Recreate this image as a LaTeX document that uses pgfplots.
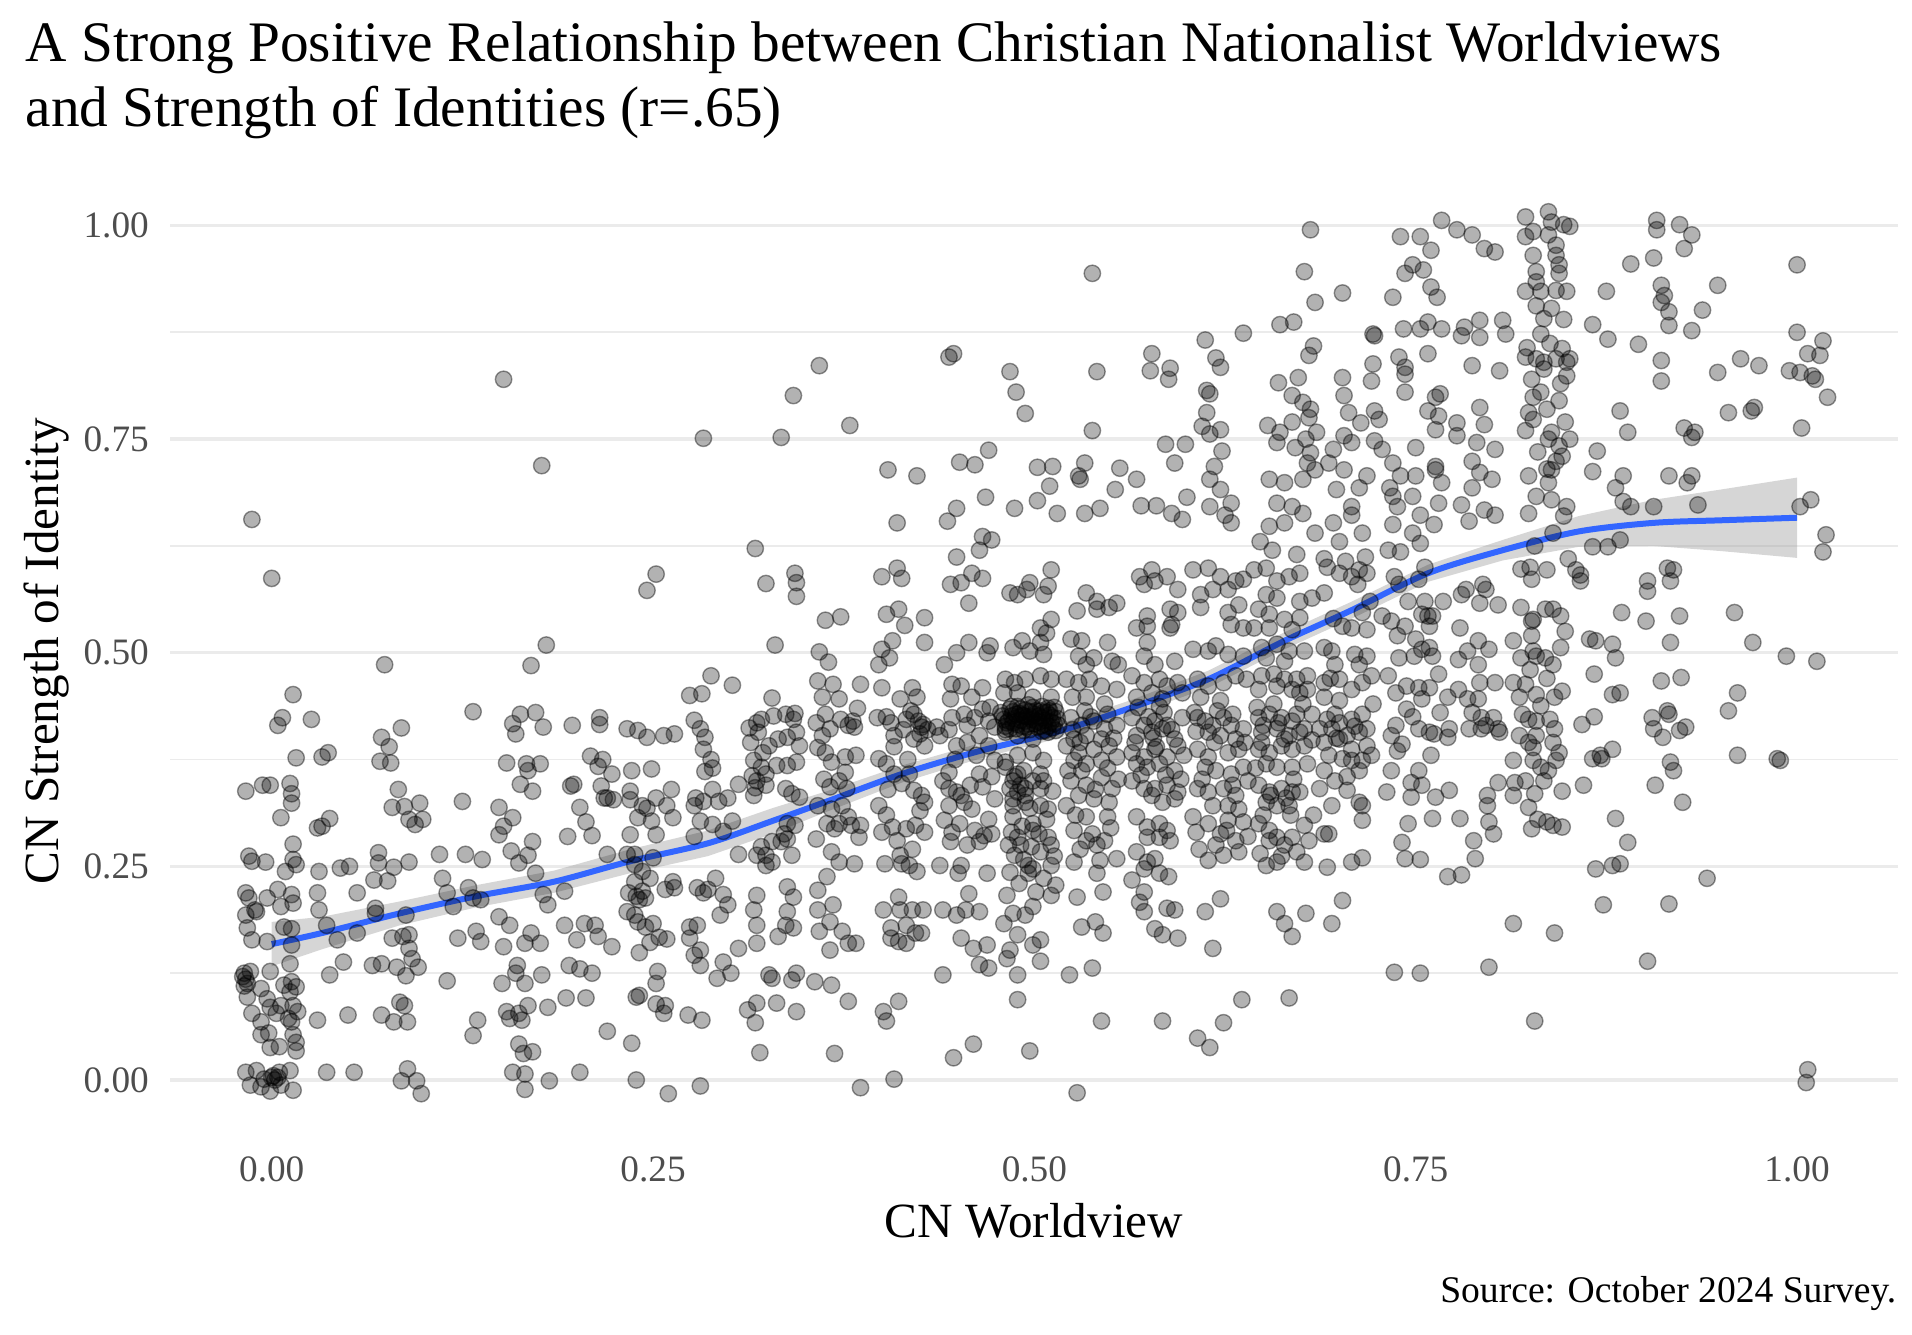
\documentclass[border=0pt]{standalone}
\usepackage{pgfplots}
\pgfplotsset{compat=1.18}
\usepackage{fontspec}
\setmainfont{Liberation Serif}
\definecolor{tickgray}{HTML}{4D4D4D}
\definecolor{gridgray}{HTML}{EBEBEB}
\definecolor{smoothblue}{HTML}{3366FF}
\definecolor{ribbongray}{HTML}{999999}
\pgfplotstableread{
x y
-0.013 0.656
0.000 0.587
0.014 0.451
0.007 0.424
0.004 0.415
0.026 0.422
0.016 0.377
0.033 0.378
0.037 0.383
-0.017 0.338
-0.006 0.345
-0.001 0.345
0.012 0.347
0.013 0.335
0.013 0.324
0.006 0.307
0.030 0.295
0.033 0.297
0.038 0.306
0.014 0.276
-0.015 0.262
-0.013 0.256
-0.004 0.255
0.014 0.258
0.009 0.244
0.016 0.252
0.031 0.244
-0.017 0.219
-0.015 0.213
-0.003 0.213
0.004 0.223
0.013 0.217
0.014 0.207
-0.010 0.197
-0.011 0.199
0.006 0.203
-0.017 0.193
0.030 0.219
0.031 0.199
-0.016 0.178
-0.013 0.164
-0.003 0.162
0.008 0.179
0.013 0.177
0.013 0.158
0.012 0.136
0.036 0.181
-0.018 0.125
-0.017 0.118
-0.019 0.121
-0.016 0.113
-0.014 0.127
-0.018 0.110
-0.001 0.127
-0.007 0.107
0.008 0.111
0.013 0.115
0.012 0.103
0.016 0.109
-0.016 0.097
-0.003 0.095
-0.001 0.085
0.003 0.078
0.006 0.087
0.014 0.087
0.017 0.080
-0.013 0.078
-0.007 0.068
0.011 0.072
0.013 0.068
-0.007 0.053
-0.002 0.055
0.014 0.053
0.016 0.044
-0.001 0.038
0.005 0.039
0.016 0.034
-0.017 0.009
-0.010 0.011
-0.005 0.001
0.000 0.003
0.005 0.009
0.012 0.011
-0.014 -0.006
-0.007 -0.008
-0.001 -0.013
0.006 -0.006
0.014 -0.012
0.002 0.000
0.004 0.003
0.001 0.005
0.030 0.070
0.036 0.009
0.074 0.486
0.072 0.401
0.077 0.390
0.085 0.412
0.071 0.373
0.078 0.371
0.083 0.340
0.079 0.319
0.087 0.320
0.097 0.324
0.090 0.305
0.094 0.299
0.099 0.305
0.051 0.250
0.045 0.248
0.056 0.219
0.070 0.266
0.070 0.254
0.080 0.249
0.067 0.234
0.076 0.233
0.090 0.255
0.068 0.201
0.068 0.195
0.056 0.172
0.043 0.164
0.088 0.193
0.079 0.166
0.086 0.168
0.090 0.170
0.090 0.154
0.092 0.142
0.096 0.132
0.088 0.122
0.066 0.134
0.072 0.136
0.082 0.132
0.047 0.138
0.038 0.123
0.072 0.076
0.080 0.068
0.089 0.068
0.084 0.091
0.087 0.087
0.089 0.013
0.085 -0.001
0.095 -0.001
0.098 -0.016
0.054 0.009
0.050 0.076
0.132 0.431
0.125 0.326
0.110 0.264
0.127 0.264
0.138 0.258
0.112 0.236
0.129 0.225
0.115 0.219
0.119 0.203
0.132 0.213
0.137 0.211
0.122 0.166
0.134 0.174
0.137 0.162
0.115 0.116
0.135 0.070
0.132 0.052
0.149 0.319
0.152 0.297
0.149 0.287
0.158 0.307
0.154 0.371
0.167 0.370
0.168 0.362
0.176 0.370
0.163 0.346
0.171 0.338
0.158 0.417
0.160 0.405
0.163 0.428
0.173 0.430
0.178 0.413
0.170 0.485
0.180 0.509
0.157 0.268
0.162 0.254
0.168 0.263
0.173 0.242
0.171 0.279
0.149 0.191
0.156 0.181
0.152 0.156
0.170 0.172
0.176 0.160
0.166 0.160
0.161 0.134
0.160 0.125
0.166 0.113
0.151 0.113
0.154 0.080
0.162 0.078
0.168 0.087
0.156 0.072
0.164 0.070
0.177 0.123
0.181 0.085
0.162 0.042
0.171 0.033
0.165 0.031
0.158 0.009
0.166 0.007
0.166 -0.011
0.182 -0.001
0.181 0.205
0.178 0.217
0.192 0.221
0.195 0.134
0.202 0.130
0.210 0.125
0.193 0.096
0.206 0.096
0.192 0.181
0.200 0.164
0.205 0.183
0.212 0.181
0.214 0.168
0.223 0.156
0.194 0.285
0.210 0.286
0.206 0.302
0.202 0.319
0.196 0.344
0.198 0.346
0.209 0.379
0.217 0.375
0.214 0.367
0.223 0.358
0.216 0.344
0.220 0.330
0.218 0.330
0.224 0.328
0.215 0.424
0.197 0.415
0.215 0.416
0.202 0.009
0.233 0.411
0.240 0.409
0.246 0.401
0.257 0.403
0.264 0.405
0.236 0.362
0.249 0.364
0.235 0.338
0.235 0.328
0.243 0.321
0.252 0.330
0.259 0.321
0.262 0.340
0.240 0.307
0.249 0.303
0.263 0.307
0.252 0.287
0.246 0.318
0.235 0.287
0.238 0.264
0.220 0.264
0.233 0.264
0.238 0.252
0.250 0.260
0.243 0.244
0.248 0.236
0.238 0.232
0.263 0.232
0.264 0.225
0.258 0.223
0.234 0.219
0.239 0.215
0.243 0.221
0.241 0.211
0.245 0.213
0.233 0.197
0.238 0.193
0.240 0.185
0.250 0.183
0.245 0.179
0.254 0.167
0.259 0.165
0.248 0.161
0.241 0.149
0.253 0.127
0.252 0.113
0.241 0.099
0.239 0.097
0.252 0.089
0.258 0.087
0.257 0.078
0.220 0.057
0.236 0.043
0.239 0.000
0.260 -0.016
0.281 -0.007
0.273 0.076
0.282 0.070
0.277 0.421
0.281 0.411
0.284 0.401
0.283 0.387
0.288 0.375
0.289 0.365
0.284 0.361
0.288 0.473
0.302 0.462
0.282 0.452
0.274 0.450
0.278 0.330
0.283 0.326
0.289 0.340
0.277 0.321
0.293 0.326
0.299 0.330
0.306 0.346
0.281 0.303
0.289 0.299
0.302 0.303
0.296 0.291
0.306 0.264
0.277 0.285
0.286 0.223
0.283 0.219
0.296 0.217
0.299 0.205
0.291 0.236
0.279 0.225
0.294 0.193
0.279 0.181
0.274 0.179
0.281 0.152
0.274 0.166
0.306 0.154
0.296 0.138
0.301 0.125
0.292 0.119
0.312 0.082
0.277 0.146
0.281 0.134
0.152 0.820
0.177 0.719
0.283 0.751
0.252 0.592
0.246 0.573
0.324 0.581
0.343 0.593
0.344 0.582
0.344 0.566
0.330 0.509
0.328 0.447
0.318 0.418
0.321 0.422
0.329 0.426
0.337 0.428
0.343 0.429
0.342 0.422
0.319 0.407
0.326 0.391
0.332 0.399
0.338 0.401
0.344 0.407
0.346 0.391
0.344 0.372
0.316 0.374
0.321 0.366
0.331 0.368
0.338 0.368
0.324 0.358
0.318 0.350
0.324 0.345
0.316 0.333
0.337 0.341
0.341 0.335
0.346 0.331
0.338 0.300
0.343 0.298
0.336 0.288
0.334 0.279
0.328 0.279
0.321 0.273
0.324 0.263
0.328 0.255
0.318 0.263
0.324 0.251
0.341 0.263
0.338 0.282
0.318 0.216
0.316 0.199
0.318 0.181
0.318 0.160
0.338 0.226
0.342 0.214
0.338 0.197
0.337 0.181
0.332 0.168
0.342 0.178
0.326 0.123
0.328 0.119
0.341 0.117
0.344 0.125
0.318 0.090
0.331 0.090
0.317 0.067
0.344 0.080
0.320 0.032
0.313 0.412
0.314 0.395
0.322 0.383
0.315 0.356
0.317 0.342
0.363 0.538
0.373 0.542
0.359 0.501
0.365 0.489
0.358 0.467
0.368 0.463
0.361 0.448
0.372 0.446
0.363 0.428
0.373 0.422
0.357 0.418
0.366 0.411
0.361 0.403
0.358 0.389
0.363 0.383
0.367 0.372
0.376 0.378
0.382 0.413
0.383 0.380
0.386 0.463
0.362 0.352
0.366 0.343
0.372 0.350
0.376 0.360
0.377 0.341
0.358 0.321
0.367 0.317
0.374 0.321
0.378 0.308
0.364 0.300
0.369 0.294
0.372 0.300
0.385 0.284
0.386 0.298
0.380 0.298
0.357 0.282
0.367 0.267
0.372 0.255
0.382 0.253
0.364 0.238
0.358 0.222
0.358 0.199
0.366 0.185
0.368 0.205
0.359 0.174
0.374 0.174
0.378 0.160
0.366 0.152
0.383 0.160
0.356 0.115
0.367 0.111
0.378 0.092
0.369 0.031
0.386 -0.009
0.381 0.420
0.378 0.415
0.384 0.435
0.400 0.589
0.410 0.599
0.413 0.587
0.403 0.545
0.411 0.551
0.415 0.532
0.428 0.541
0.407 0.514
0.400 0.504
0.405 0.494
0.398 0.486
0.400 0.459
0.412 0.446
0.420 0.459
0.423 0.448
0.397 0.424
0.406 0.418
0.416 0.422
0.421 0.428
0.426 0.413
0.408 0.403
0.421 0.399
0.428 0.391
0.398 0.376
0.403 0.370
0.408 0.358
0.413 0.347
0.421 0.339
0.426 0.333
0.428 0.325
0.418 0.358
0.398 0.321
0.403 0.310
0.400 0.290
0.407 0.296
0.416 0.294
0.422 0.298
0.428 0.290
0.412 0.263
0.402 0.253
0.413 0.253
0.418 0.251
0.423 0.244
0.411 0.214
0.401 0.199
0.412 0.199
0.420 0.199
0.427 0.199
0.406 0.178
0.416 0.181
0.422 0.172
0.426 0.172
0.406 0.166
0.411 0.162
0.416 0.160
0.401 0.080
0.403 0.069
0.411 0.092
0.408 0.001
0.424 0.420
0.427 0.416
0.419 0.432
0.430 0.410
0.445 0.580
0.452 0.582
0.459 0.593
0.466 0.587
0.457 0.558
0.428 0.512
0.449 0.500
0.441 0.486
0.457 0.512
0.471 0.508
0.469 0.500
0.446 0.463
0.452 0.461
0.466 0.459
0.459 0.448
0.445 0.446
0.436 0.413
0.446 0.424
0.454 0.428
0.461 0.424
0.466 0.434
0.471 0.436
0.474 0.413
0.438 0.403
0.449 0.391
0.464 0.403
0.470 0.391
0.456 0.395
0.440 0.350
0.449 0.337
0.454 0.325
0.466 0.343
0.474 0.329
0.444 0.321
0.459 0.317
0.441 0.304
0.451 0.300
0.461 0.292
0.467 0.286
0.445 0.279
0.456 0.275
0.464 0.279
0.472 0.288
0.438 0.251
0.450 0.242
0.452 0.251
0.469 0.242
0.457 0.218
0.455 0.199
0.464 0.197
0.440 0.199
0.449 0.193
0.452 0.166
0.460 0.154
0.469 0.158
0.464 0.135
0.470 0.131
0.440 0.123
0.460 0.042
0.447 0.026
0.444 0.341
0.452 0.333
0.464 0.358
0.474 0.374
0.484 0.570
0.489 0.568
0.495 0.574
0.497 0.582
0.506 0.568
0.509 0.578
0.511 0.597
0.486 0.506
0.492 0.514
0.497 0.502
0.504 0.512
0.506 0.498
0.511 0.539
0.504 0.529
0.508 0.523
0.481 0.469
0.487 0.465
0.494 0.469
0.504 0.473
0.511 0.469
0.480 0.453
0.489 0.453
0.499 0.448
0.511 0.448
0.478 0.430
0.480 0.422
0.481 0.414
0.484 0.434
0.485 0.426
0.486 0.418
0.488 0.411
0.489 0.437
0.490 0.429
0.491 0.421
0.492 0.414
0.494 0.433
0.495 0.425
0.496 0.417
0.497 0.410
0.499 0.436
0.500 0.428
0.501 0.420
0.502 0.413
0.504 0.432
0.505 0.424
0.506 0.416
0.507 0.409
0.509 0.435
0.510 0.427
0.511 0.419
0.512 0.412
0.514 0.431
0.515 0.423
0.516 0.415
0.483 0.420
0.493 0.426
0.503 0.419
0.508 0.430
0.498 0.422
0.488 0.428
0.479 0.426
0.482 0.418
0.484 0.411
0.486 0.431
0.487 0.423
0.489 0.416
0.491 0.434
0.492 0.427
0.494 0.420
0.495 0.413
0.497 0.431
0.498 0.425
0.500 0.417
0.501 0.432
0.503 0.426
0.504 0.414
0.506 0.430
0.507 0.421
0.509 0.414
0.510 0.432
0.512 0.424
0.513 0.417
0.485 0.437
0.496 0.439
0.505 0.437
0.513 0.436
0.481 0.410
0.493 0.409
0.505 0.408
0.514 0.409
0.481 0.407
0.489 0.403
0.499 0.399
0.509 0.407
0.481 0.372
0.489 0.380
0.499 0.383
0.506 0.374
0.504 0.358
0.489 0.358
0.499 0.350
0.484 0.341
0.489 0.337
0.494 0.341
0.504 0.341
0.486 0.321
0.494 0.325
0.504 0.321
0.509 0.317
0.486 0.308
0.499 0.300
0.489 0.284
0.499 0.292
0.509 0.284
0.491 0.275
0.504 0.267
0.511 0.275
0.496 0.251
0.496 0.242
0.499 0.247
0.511 0.251
0.487 0.263
0.482 0.216
0.501 0.220
0.511 0.216
0.499 0.203
0.486 0.195
0.494 0.193
0.480 0.183
0.489 0.170
0.499 0.158
0.504 0.164
0.484 0.152
0.482 0.142
0.504 0.139
0.489 0.123
0.489 0.094
0.497 0.034
0.481 0.366
0.486 0.350
0.494 0.333
0.491 0.345
0.534 0.570
0.541 0.560
0.549 0.553
0.554 0.558
0.541 0.551
0.528 0.549
0.524 0.516
0.531 0.514
0.539 0.494
0.548 0.512
0.551 0.490
0.555 0.486
0.529 0.496
0.534 0.486
0.521 0.469
0.529 0.465
0.536 0.469
0.544 0.461
0.554 0.457
0.525 0.448
0.534 0.448
0.546 0.440
0.524 0.424
0.531 0.415
0.539 0.420
0.546 0.411
0.554 0.415
0.534 0.403
0.526 0.399
0.544 0.399
0.521 0.391
0.529 0.383
0.539 0.387
0.549 0.391
0.526 0.374
0.534 0.370
0.544 0.374
0.554 0.378
0.531 0.362
0.524 0.350
0.534 0.345
0.544 0.354
0.551 0.341
0.529 0.333
0.539 0.329
0.549 0.325
0.521 0.321
0.534 0.308
0.548 0.308
0.526 0.292
0.538 0.288
0.546 0.280
0.534 0.280
0.541 0.275
0.526 0.255
0.543 0.257
0.554 0.259
0.541 0.242
0.528 0.214
0.545 0.220
0.531 0.179
0.540 0.185
0.545 0.172
0.523 0.123
0.538 0.131
0.544 0.069
0.528 -0.015
0.530 0.395
0.548 0.365
0.537 0.425
0.569 0.589
0.577 0.597
0.587 0.589
0.594 0.574
0.572 0.580
0.579 0.584
0.574 0.543
0.589 0.551
0.594 0.547
0.567 0.529
0.574 0.531
0.589 0.529
0.590 0.533
0.574 0.512
0.572 0.496
0.579 0.486
0.592 0.490
0.564 0.473
0.572 0.465
0.582 0.469
0.587 0.461
0.594 0.465
0.567 0.448
0.577 0.453
0.584 0.446
0.597 0.453
0.564 0.424
0.572 0.415
0.579 0.420
0.587 0.415
0.597 0.424
0.567 0.403
0.577 0.407
0.584 0.411
0.592 0.399
0.564 0.383
0.572 0.378
0.579 0.387
0.587 0.378
0.594 0.391
0.567 0.370
0.574 0.366
0.582 0.370
0.592 0.362
0.564 0.350
0.572 0.341
0.579 0.341
0.587 0.345
0.594 0.337
0.577 0.333
0.584 0.325
0.592 0.329
0.567 0.308
0.574 0.296
0.582 0.300
0.587 0.292
0.582 0.284
0.589 0.280
0.574 0.284
0.567 0.267
0.574 0.255
0.579 0.259
0.572 0.247
0.582 0.242
0.588 0.238
0.564 0.234
0.572 0.220
0.569 0.208
0.572 0.197
0.587 0.201
0.592 0.199
0.579 0.177
0.584 0.170
0.594 0.166
0.584 0.069
0.575 0.425
0.585 0.430
0.578 0.400
0.580 0.390
0.586 0.357
0.604 0.597
0.614 0.599
0.622 0.589
0.632 0.584
0.637 0.586
0.609 0.568
0.617 0.574
0.627 0.574
0.609 0.553
0.627 0.547
0.634 0.556
0.629 0.533
0.637 0.529
0.604 0.504
0.614 0.502
0.619 0.508
0.627 0.498
0.637 0.496
0.607 0.469
0.614 0.461
0.624 0.465
0.632 0.473
0.639 0.469
0.609 0.448
0.622 0.444
0.607 0.424
0.612 0.420
0.617 0.415
0.624 0.424
0.629 0.415
0.637 0.411
0.614 0.407
0.622 0.403
0.632 0.399
0.607 0.387
0.614 0.378
0.627 0.383
0.634 0.387
0.612 0.366
0.619 0.362
0.629 0.358
0.637 0.366
0.607 0.341
0.614 0.337
0.624 0.341
0.632 0.333
0.617 0.321
0.627 0.321
0.634 0.317
0.604 0.308
0.614 0.300
0.627 0.304
0.637 0.302
0.622 0.288
0.632 0.280
0.619 0.275
0.614 0.257
0.624 0.263
0.634 0.267
0.612 0.197
0.622 0.212
0.617 0.154
0.636 0.094
0.624 0.067
0.607 0.049
0.615 0.038
0.605 0.430
0.620 0.432
0.630 0.428
0.644 0.597
0.652 0.599
0.659 0.584
0.667 0.589
0.674 0.593
0.652 0.568
0.659 0.564
0.674 0.560
0.647 0.551
0.654 0.545
0.664 0.539
0.674 0.541
0.644 0.529
0.654 0.529
0.669 0.527
0.649 0.506
0.659 0.510
0.667 0.502
0.677 0.502
0.652 0.494
0.664 0.490
0.649 0.473
0.657 0.475
0.664 0.469
0.672 0.469
0.679 0.473
0.647 0.457
0.659 0.461
0.669 0.457
0.674 0.453
0.647 0.424
0.654 0.428
0.662 0.424
0.669 0.420
0.677 0.411
0.649 0.407
0.659 0.411
0.667 0.403
0.674 0.407
0.647 0.387
0.654 0.383
0.662 0.391
0.669 0.387
0.677 0.391
0.652 0.370
0.659 0.366
0.669 0.366
0.679 0.370
0.647 0.345
0.654 0.337
0.662 0.341
0.669 0.337
0.674 0.337
0.652 0.325
0.659 0.321
0.667 0.321
0.647 0.300
0.654 0.292
0.659 0.284
0.669 0.284
0.677 0.298
0.654 0.280
0.664 0.275
0.652 0.251
0.659 0.255
0.672 0.267
0.677 0.255
0.659 0.197
0.664 0.183
0.669 0.168
0.678 0.195
0.667 0.096
0.650 0.415
0.660 0.418
0.655 0.333
0.665 0.330
0.672 0.428
0.700 0.593
0.708 0.589
0.713 0.597
0.718 0.593
0.690 0.570
0.682 0.564
0.702 0.531
0.708 0.529
0.718 0.527
0.715 0.547
0.690 0.506
0.695 0.502
0.710 0.498
0.718 0.496
0.697 0.486
0.713 0.486
0.690 0.465
0.700 0.469
0.708 0.457
0.715 0.465
0.721 0.473
0.679 0.457
0.690 0.448
0.700 0.444
0.682 0.428
0.692 0.422
0.697 0.428
0.708 0.422
0.715 0.428
0.687 0.411
0.695 0.411
0.705 0.403
0.713 0.407
0.718 0.411
0.690 0.395
0.700 0.399
0.708 0.387
0.718 0.391
0.702 0.376
0.708 0.374
0.715 0.374
0.713 0.362
0.690 0.362
0.697 0.350
0.687 0.341
0.705 0.339
0.713 0.325
0.715 0.321
0.695 0.321
0.715 0.304
0.690 0.288
0.693 0.288
0.692 0.249
0.708 0.255
0.715 0.260
0.702 0.210
0.695 0.183
0.700 0.418
0.710 0.414
0.693 0.380
0.705 0.355
0.728 0.543
0.734 0.537
0.743 0.531
0.739 0.580
0.752 0.586
0.736 0.589
0.754 0.545
0.758 0.543
0.761 0.543
0.759 0.531
0.750 0.516
0.754 0.504
0.749 0.496
0.759 0.506
0.761 0.496
0.739 0.494
0.732 0.473
0.737 0.453
0.744 0.461
0.752 0.459
0.759 0.459
0.754 0.446
0.744 0.434
0.737 0.415
0.734 0.403
0.741 0.393
0.752 0.411
0.762 0.405
0.759 0.407
0.772 0.411
0.771 0.401
0.734 0.362
0.752 0.362
0.747 0.348
0.754 0.345
0.763 0.331
0.747 0.331
0.731 0.337
0.745 0.300
0.761 0.306
0.741 0.278
0.743 0.259
0.753 0.258
0.772 0.339
0.771 0.238
0.780 0.240
0.756 0.560
0.736 0.126
0.753 0.125
0.780 0.568
0.783 0.574
0.794 0.580
0.796 0.574
0.792 0.558
0.804 0.556
0.819 0.553
0.827 0.539
0.819 0.598
0.826 0.586
0.836 0.597
0.779 0.529
0.791 0.514
0.798 0.504
0.784 0.502
0.778 0.492
0.791 0.486
0.792 0.465
0.802 0.465
0.778 0.457
0.771 0.448
0.784 0.446
0.791 0.446
0.787 0.430
0.793 0.424
0.796 0.415
0.785 0.411
0.793 0.411
0.804 0.411
0.805 0.407
0.801 0.424
0.814 0.514
0.819 0.494
0.827 0.502
0.829 0.496
0.835 0.494
0.840 0.486
0.845 0.506
0.814 0.465
0.822 0.463
0.829 0.451
0.841 0.448
0.818 0.448
0.820 0.428
0.824 0.422
0.829 0.420
0.838 0.422
0.841 0.411
0.818 0.403
0.829 0.403
0.827 0.389
0.814 0.374
0.827 0.374
0.832 0.366
0.837 0.362
0.844 0.383
0.842 0.374
0.804 0.348
0.815 0.348
0.828 0.335
0.814 0.333
0.797 0.333
0.797 0.321
0.824 0.319
0.798 0.302
0.836 0.302
0.840 0.298
0.846 0.296
0.826 0.294
0.779 0.306
0.801 0.288
0.788 0.280
0.789 0.259
0.814 0.183
0.841 0.172
0.798 0.132
0.828 0.069
0.855 0.597
0.858 0.591
0.858 0.584
0.845 0.543
0.840 0.551
0.835 0.551
0.826 0.537
0.864 0.516
0.868 0.514
0.879 0.510
0.881 0.494
0.867 0.475
0.879 0.451
0.884 0.453
0.885 0.547
0.901 0.537
0.902 0.584
0.902 0.572
0.915 0.599
0.919 0.597
0.917 0.584
0.923 0.543
0.917 0.512
0.911 0.467
0.924 0.471
0.905 0.424
0.915 0.432
0.916 0.428
0.906 0.411
0.912 0.401
0.923 0.409
0.927 0.413
0.867 0.425
0.859 0.416
0.879 0.387
0.871 0.380
0.866 0.376
0.872 0.376
0.860 0.345
0.881 0.306
0.889 0.278
0.868 0.247
0.879 0.251
0.884 0.253
0.917 0.372
0.919 0.362
0.907 0.345
0.925 0.325
0.873 0.205
0.916 0.206
0.902 0.139
0.941 0.236
0.959 0.547
0.971 0.512
0.993 0.496
1.013 0.490
0.961 0.453
0.955 0.432
0.961 0.380
0.987 0.376
0.989 0.374
1.007 0.012
1.006 -0.003
0.317 0.622
0.334 0.752
0.342 0.801
0.359 0.836
0.379 0.766
0.404 0.714
0.423 0.707
0.410 0.652
0.444 0.846
0.447 0.850
0.451 0.723
0.461 0.720
0.470 0.737
0.468 0.682
0.449 0.669
0.443 0.654
0.466 0.636
0.472 0.632
0.449 0.612
0.464 0.620
0.484 0.829
0.488 0.805
0.494 0.780
0.487 0.669
0.502 0.678
0.515 0.663
0.510 0.695
0.502 0.717
0.512 0.718
0.529 0.707
0.533 0.722
0.530 0.703
0.538 0.944
0.538 0.760
0.541 0.829
0.533 0.663
0.543 0.669
0.553 0.691
0.556 0.716
0.567 0.703
0.577 0.850
0.576 0.830
0.589 0.833
0.588 0.820
0.586 0.744
0.599 0.744
0.592 0.722
0.570 0.672
0.580 0.672
0.590 0.663
0.600 0.682
0.597 0.656
0.612 0.866
0.619 0.845
0.622 0.834
0.613 0.807
0.615 0.803
0.613 0.781
0.610 0.765
0.615 0.756
0.622 0.761
0.623 0.736
0.618 0.718
0.615 0.703
0.622 0.691
0.615 0.671
0.629 0.675
0.625 0.661
0.629 0.652
0.637 0.874
0.661 0.884
0.670 0.887
0.677 0.946
0.681 0.995
0.683 0.859
0.680 0.848
0.684 0.910
0.653 0.766
0.661 0.758
0.659 0.746
0.673 0.822
0.676 0.793
0.681 0.785
0.669 0.801
0.680 0.775
0.685 0.758
0.678 0.750
0.671 0.740
0.681 0.734
0.684 0.714
0.676 0.703
0.660 0.816
0.669 0.770
0.679 0.722
0.654 0.703
0.664 0.699
0.659 0.675
0.669 0.671
0.676 0.663
0.654 0.648
0.664 0.652
0.702 0.921
0.703 0.801
0.702 0.822
0.706 0.781
0.714 0.769
0.703 0.754
0.708 0.746
0.696 0.738
0.693 0.722
0.703 0.714
0.718 0.707
0.698 0.691
0.713 0.693
0.708 0.671
0.696 0.652
0.708 0.661
0.722 0.873
0.723 0.871
0.722 0.838
0.721 0.818
0.723 0.783
0.726 0.773
0.723 0.748
0.728 0.738
0.735 0.722
0.740 0.707
0.733 0.693
0.748 0.683
0.738 0.671
0.743 0.805
0.739 0.846
0.743 0.834
0.740 0.987
0.753 0.987
0.748 0.954
0.760 0.971
0.755 0.948
0.743 0.944
0.735 0.916
0.760 0.928
0.764 0.916
0.742 0.879
0.753 0.879
0.758 0.887
0.767 0.879
0.758 0.850
0.743 0.826
0.758 0.783
0.763 0.799
0.766 0.803
0.765 0.777
0.750 0.740
0.763 0.761
0.763 0.718
0.750 0.707
0.767 0.699
0.763 0.714
0.765 0.675
0.753 0.661
0.735 0.683
0.740 0.618
0.753 0.628
0.767 1.006
0.777 0.995
0.787 0.989
0.795 0.973
0.802 0.969
0.782 0.881
0.792 0.889
0.807 0.889
0.780 0.871
0.792 0.869
0.809 0.873
0.787 0.836
0.805 0.830
0.792 0.787
0.777 0.769
0.795 0.767
0.777 0.754
0.790 0.746
0.802 0.738
0.787 0.724
0.792 0.711
0.800 0.703
0.787 0.693
0.780 0.673
0.795 0.667
0.802 0.661
0.785 0.654
0.822 1.010
0.827 0.993
0.822 0.987
0.837 1.016
0.839 1.004
0.847 1.001
0.851 0.999
0.837 0.989
0.842 0.977
0.827 0.965
0.842 0.965
0.844 0.954
0.829 0.946
0.844 0.944
0.829 0.934
0.822 0.923
0.832 0.923
0.842 0.924
0.849 0.923
0.829 0.906
0.839 0.903
0.834 0.891
0.847 0.890
0.832 0.873
0.822 0.846
0.829 0.844
0.834 0.840
0.842 0.844
0.849 0.840
0.851 0.844
0.834 0.832
0.849 0.824
0.832 0.805
0.827 0.799
0.844 0.795
0.824 0.781
0.827 0.773
0.839 0.758
0.837 0.750
0.851 0.750
0.844 0.742
0.842 0.724
0.824 0.707
0.839 0.714
0.837 0.699
0.829 0.683
0.839 0.679
0.849 0.671
0.847 0.660
0.824 0.663
0.866 0.884
0.876 0.867
0.896 0.861
0.875 0.923
0.891 0.955
0.906 0.962
0.911 0.930
0.913 0.918
0.911 0.910
0.916 0.899
0.938 0.901
0.948 0.930
0.931 0.877
0.916 0.883
0.908 1.006
0.908 0.995
0.923 1.001
0.931 0.989
0.926 0.973
0.911 0.842
0.911 0.818
0.948 0.828
0.963 0.844
0.975 0.836
0.884 0.783
0.955 0.781
0.970 0.783
0.972 0.787
0.926 0.763
0.933 0.758
0.931 0.752
0.889 0.758
0.869 0.736
0.866 0.712
0.886 0.707
0.881 0.693
0.886 0.677
0.891 0.671
0.906 0.671
0.916 0.707
0.931 0.707
0.928 0.699
0.935 0.673
0.876 0.624
0.884 0.632
0.866 0.624
1.000 0.954
1.000 0.875
1.017 0.865
1.007 0.850
1.015 0.848
0.995 0.830
1.002 0.828
1.010 0.824
1.012 0.820
1.020 0.799
1.003 0.763
1.002 0.671
1.009 0.679
1.019 0.638
1.017 0.618
0.487 0.355
0.493 0.362
0.506 0.350
0.512 0.338
0.486 0.329
0.497 0.318
0.508 0.305
0.492 0.297
0.485 0.290
0.503 0.288
0.513 0.262
0.493 0.258
0.484 0.243
0.506 0.236
0.490 0.230
0.514 0.228
0.498 0.273
0.483 0.275
0.566 0.395
0.590 0.410
0.598 0.380
0.570 0.357
0.596 0.352
0.582 0.437
0.568 0.436
0.646 0.436
0.657 0.440
0.676 0.440
0.649 0.395
0.664 0.399
0.682 0.398
0.645 0.365
0.670 0.352
0.650 0.310
0.668 0.310
0.683 0.310
0.648 0.265
0.662 0.262
0.680 0.280
0.656 0.620
0.672 0.615
0.648 0.630
0.684 0.640
0.690 0.610
0.704 0.607
0.717 0.612
0.700 0.630
0.715 0.640
0.692 0.600
0.712 0.580
0.696 0.540
0.720 0.560
0.694 0.470
0.722 0.440
0.698 0.400
0.721 0.380
0.823 0.857
0.838 0.862
0.846 0.856
0.826 0.820
0.845 0.815
0.836 0.785
0.822 0.760
0.848 0.770
0.830 0.735
0.846 0.730
0.836 0.715
0.828 0.625
0.840 0.640
0.825 0.600
0.850 0.610
0.826 0.520
0.848 0.525
0.836 0.470
0.825 0.480
0.846 0.455
0.832 0.438
0.824 0.395
0.840 0.395
0.834 0.350
0.822 0.350
0.846 0.338
0.830 0.305
0.732 0.620
0.748 0.640
0.762 0.650
0.735 0.650
0.756 0.600
0.768 0.560
0.745 0.560
0.738 0.520
0.765 0.475
0.748 0.425
0.766 0.430
0.738 0.385
0.760 0.380
0.403 0.425
0.414 0.410
0.425 0.405
0.408 0.390
0.417 0.375
0.404 0.340
0.425 0.315
0.410 0.280
0.420 0.270
0.444 0.410
0.456 0.415
0.470 0.420
0.448 0.375
0.462 0.380
0.444 0.360
0.472 0.355
0.458 0.345
0.446 0.290
0.470 0.305
0.525 0.410
0.533 0.432
0.548 0.428
0.552 0.400
0.522 0.362
0.540 0.340
0.555 0.352
0.527 0.310
0.550 0.295
0.530 0.270
0.606 0.408
0.618 0.395
0.638 0.395
0.610 0.352
0.630 0.345
0.640 0.350
0.606 0.290
0.626 0.292
0.608 0.270
0.640 0.285
}\points
\pgfplotstableread{
x y
0.000 0.185
0.033 0.191
0.084 0.209
0.134 0.228
0.185 0.245
0.235 0.270
0.286 0.292
0.328 0.318
0.364 0.338
0.413 0.368
0.464 0.394
0.514 0.415
0.564 0.445
0.614 0.479
0.664 0.524
0.707 0.559
0.758 0.603
0.807 0.632
0.857 0.660
0.906 0.679
0.950 0.691
1.000 0.705
1.000 0.611
0.950 0.619
0.906 0.625
0.857 0.624
0.807 0.608
0.758 0.583
0.707 0.539
0.664 0.504
0.614 0.459
0.564 0.427
0.514 0.399
0.464 0.376
0.413 0.348
0.364 0.314
0.328 0.288
0.286 0.262
0.235 0.242
0.185 0.219
0.134 0.202
0.084 0.181
0.033 0.153
0.000 0.133
}\ribbon
\pgfplotstableread{
x y
0.000 0.159
0.033 0.172
0.084 0.195
0.134 0.215
0.185 0.232
0.235 0.256
0.286 0.277
0.328 0.303
0.364 0.326
0.413 0.358
0.464 0.385
0.514 0.407
0.564 0.436
0.614 0.469
0.664 0.514
0.707 0.549
0.758 0.593
0.807 0.620
0.857 0.642
0.906 0.652
0.950 0.655
1.000 0.658
}\smoothline
\begin{document}
\begin{tikzpicture}
\path[use as bounding box] (0,0) rectangle (191.2mm,133.4mm);
\begin{axis}[
  at={(17mm,19.25mm)}, anchor=south west,
  scale only axis, width=172.8mm, height=97.75mm,
  xmin=-0.0667, xmax=1.0662, ymin=-0.072, ymax=1.072,
  axis line style={draw=none},
  major tick length=0pt, minor tick length=0pt,
  tick style={draw=none},
  xtick={0,0.25,0.5,0.75,1}, ytick={0,0.25,0.5,0.75,1},
  minor ytick={0.125,0.375,0.625,0.875},
  ymajorgrids, yminorgrids,
  major grid style={draw=gridgray, line width=0.35mm},
  minor grid style={draw=gridgray, line width=0.18mm},
  ticklabel style={font=\fontsize{10.6}{12}\selectfont, text=tickgray},
  xticklabel style={inner sep=0pt, anchor=north, yshift=-1.45mm},
  yticklabel style={inner sep=0pt, anchor=east, xshift=-2.05mm},
  /pgf/number format/fixed, /pgf/number format/fixed zerofill,
  /pgf/number format/precision=2, /pgf/number format/assume math mode=true,
]
\addplot[only marks, mark=*, mark size=0.82mm,
  mark options={fill=black, fill opacity=0.3, draw=black, draw opacity=0.42, line width=0.14mm}]
  table[x=x, y=y] {\points};
\addplot[draw=none, fill=ribbongray, fill opacity=0.4] table[x=x, y=y] {\ribbon};
\addplot[smoothblue, line width=0.6mm, smooth, tension=0.5] table[x=x, y=y] {\smoothline};
\end{axis}
\node[anchor=base west, inner sep=0pt, font=\fontsize{16.3}{19}\selectfont] at (2.5mm,127.2mm) {A Strong Positive Relationship between Christian Nationalist Worldviews};
\node[anchor=base west, inner sep=0pt, font=\fontsize{16.3}{19}\selectfont] at (2.5mm,120.7mm) {and Strength of Identities (r=.65)};
\node[anchor=base, inner sep=0pt, font=\fontsize{14}{16}\selectfont] at (103.4mm,9.7mm) {CN Worldview};
\node[anchor=base, rotate=90, inner sep=0pt, font=\fontsize{14}{16}\selectfont] at (5.8mm,68.3mm) {CN Strength of Identity};
\node[anchor=base east, inner sep=0pt, font=\fontsize{10.7}{12}\selectfont] at (189.7mm,3.2mm) {Source: October 2024 Survey.};
\end{tikzpicture}
\end{document}
